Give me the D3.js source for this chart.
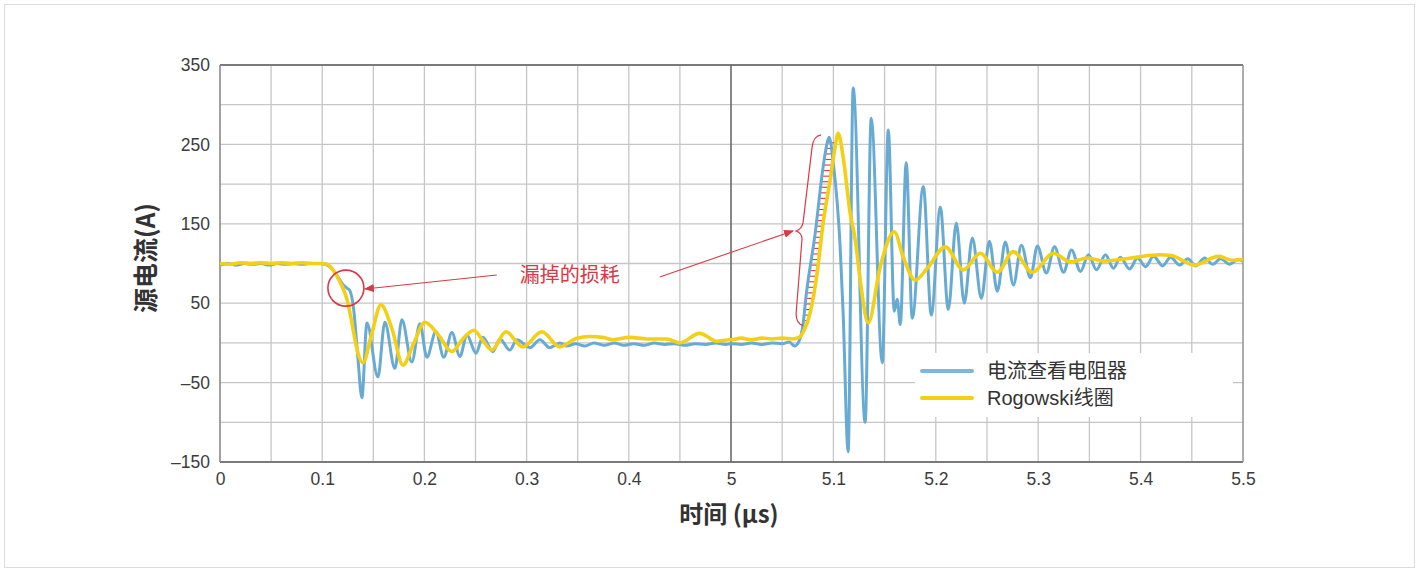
<!DOCTYPE html>
<html>
<head>
<meta charset="utf-8">
<script src="https://cdn.jsdelivr.net/npm/d3@7"></script>
<style>
body { margin: 0; background: #fff; }
svg { display: block; font-family: "Liberation Sans", Arial, "Noto Sans CJK SC", sans-serif; }
</style>
</head>
<body>
<div id="chart"></div>
<script>
// time in µs, current in A (left half 0–0.5 µs, right half 5–5.5 µs)
const resistorPoints = [
  [0,98],[0.008,100],[0.016,98],[0.024,100],[0.032,99],[0.040,100],[0.048,98],[0.056,100],[0.064,99],
  [0.072,100],[0.080,99],[0.088,100],[0.096,100],[0.103,99],[0.109,94],[0.115,84],[0.120,74],
  [0.1242,69],[0.127,66],[0.131,40],[0.135,-20],[0.1388,-69],
  [0.1438,25],[0.1545,-43],[0.1613,26],[0.1711,-32],[0.1780,29],[0.1877,-24],[0.1956,24],[0.2024,-18],
  [0.2112,14],[0.2190,-18],[0.2269,13],[0.2347,-17],[0.2416,10],[0.2504,-13],[0.2572,7],[0.2670,-11],
  [0.2738,5],[0.2836,-9],[0.2905,4],[0.3032,-6],[0.3130,4],[0.3227,-6],[0.3325,0],[0.3394,-4],
  [0.348,-1],[0.357,-4],[0.366,0],[0.376,-3],[0.386,0],[0.395,-3],[0.405,-1],[0.415,-3],[0.425,0],
  [0.435,-2],[0.445,-1],[0.455,-3],[0.465,-1],[0.475,-2],[0.485,0],[0.495,-2],
  [5.000,-1],[5.010,-2],[5.020,0],[5.030,-2],[5.040,0],[5.050,-1],[5.057,1],[5.062,-4],[5.066,1],
  [5.070,20],[5.0734,60],[5.0822,138],[5.0900,222],[5.0939,252],[5.0958,259],
  [5.1000,225],[5.1066,121],[5.1095,38],[5.1144,-137],[5.1193,321],[5.1310,-100],[5.1369,283],
  [5.1477,-25],[5.1536,268],[5.1594,40],[5.1623,55],[5.1653,23],[5.1711,227],[5.1770,31],[5.1878,197],
  [5.1956,35],[5.2044,171],[5.2122,42],[5.2200,151],[5.2278,50],[5.2357,132],[5.2445,56],[5.2523,128],
  [5.2601,65],[5.2679,127],[5.2758,73],[5.2836,123],[5.2924,82],[5.2992,122],[5.3080,88],[5.3159,121],
  [5.3247,89],[5.3325,117],[5.3413,90],[5.3491,111],[5.3569,92],[5.3657,111],[5.3735,94],[5.3803,108],
  [5.3892,93],[5.3970,107],[5.4048,96],[5.4127,109],[5.4215,97],[5.4293,108],[5.4381,98],[5.4460,106],
  [5.4538,97],[5.4626,107],[5.4704,99],[5.4782,106],[5.4870,99],[5.4949,105],[5.5,103]
];

const rogowskiPoints = [
  [0,100],[0.010,99],[0.020,101],[0.030,100],[0.040,101],[0.050,100],[0.060,101],[0.070,100],
  [0.080,101],[0.090,100],[0.100,100],[0.1046,99],[0.1105,92],[0.1173,77],[0.1242,55],[0.1291,25],
  [0.1340,-8],[0.1398,-25],[0.1486,12],[0.1574,48],[0.1682,18],[0.1790,-28],[0.1897,0],[0.2005,26],
  [0.2137,10],[0.2269,-11],[0.2376,5],[0.2484,16],[0.2572,3],[0.2660,-9],[0.2797,14],[0.2963,-5],
  [0.3149,14],[0.3325,-5],[0.3491,6],[0.3618,8],[0.3745,7],[0.3843,4],[0.4009,7],[0.4176,5],
  [0.4371,5],[0.4498,0],[0.4694,12],[0.4860,2],[0.4990,4],
  [5.000,4],[5.010,6],[5.020,4],[5.030,6],[5.040,5],[5.050,6],[5.060,5],[5.0665,7],[5.0714,16],
  [5.0773,38],[5.0841,88],[5.0900,151],[5.0968,205],[5.1017,247],[5.1046,264],[5.1095,234],
  [5.1164,163],[5.1213,130],[5.1262,79],[5.1340,25],[5.1457,96],[5.1594,140],[5.1682,108],
  [5.1799,79],[5.1917,94],[5.2093,121],[5.2269,92],[5.2435,113],[5.2601,89],[5.2757,115],
  [5.2943,89],[5.3148,113],[5.3314,102],[5.3480,107],[5.3640,103],[5.3800,105],[5.3970,108],
  [5.4180,111],[5.4300,110],[5.4526,98],[5.4760,109],[5.4900,104],[5.5,105]
];

const xTicks = [0, 0.1, 0.2, 0.3, 0.4, 5, 5.1, 5.2, 5.3, 5.4, 5.5];
const xGrid = [0.05, 0.1, 0.15, 0.2, 0.25, 0.3, 0.35, 0.4, 0.45, 5.05, 5.1, 5.15, 5.2, 5.25, 5.3, 5.35, 5.4, 5.45];
const yTicks = [-150, -50, 50, 150, 250, 350];
const yGrid = [-100, -50, 0, 50, 100, 150, 200, 250, 300];
const seriesNames = ["电流查看电阻器", "Rogowski线圈"];
const annotationText = "漏掉的损耗";

const W = 1419, H = 572;
const plotL = 220, plotR = 1243, plotT = 65, plotB = 462;
const mid = 731;
const blue = "#67abd4", yellow = "#f3d016", red = "#d83a45";

const svg = d3.select("#chart").append("svg")
  .attr("width", W)
  .attr("height", H);

svg.append("rect")
  .attr("x", 4.5).attr("y", 4.5)
  .attr("width", W - 9).attr("height", H - 9)
  .attr("fill", "#fff")
  .attr("stroke", "#dcdcdc");

// broken time axis: 0–0.5 then 5–5.5
const x = d3.scaleLinear().domain([0, 0.5, 5, 5.5]).range([plotL, mid, mid, plotR]);
const y = d3.scaleLinear().domain([-150, 350]).range([plotB, plotT]);

// grid
svg.append("g").selectAll("line")
  .data(xGrid)
  .enter().append("line")
  .attr("x1", d => x(d)).attr("x2", d => x(d))
  .attr("y1", plotT).attr("y2", plotB)
  .attr("stroke", "#c6c6c6").attr("stroke-width", 1.3);

svg.append("g").selectAll("line")
  .data(yGrid)
  .enter().append("line")
  .attr("x1", plotL).attr("x2", plotR)
  .attr("y1", d => y(d)).attr("y2", d => y(d))
  .attr("stroke", "#c6c6c6").attr("stroke-width", 1.3);

// frame
svg.append("line").attr("x1", plotL).attr("x2", plotR).attr("y1", y(350)).attr("y2", y(350))
  .attr("stroke", "#7a7a7a").attr("stroke-width", 1.8);
svg.append("line").attr("x1", plotL).attr("x2", plotR).attr("y1", y(-150)).attr("y2", y(-150))
  .attr("stroke", "#7a7a7a").attr("stroke-width", 1.8);
svg.append("line").attr("x1", x(0)).attr("x2", x(0)).attr("y1", plotT).attr("y2", plotB)
  .attr("stroke", "#8a8a8a").attr("stroke-width", 1.6);
svg.append("line").attr("x1", x(5.5)).attr("x2", x(5.5)).attr("y1", plotT).attr("y2", plotB)
  .attr("stroke", "#8a8a8a").attr("stroke-width", 1.4);
svg.append("line").attr("x1", x(5)).attr("x2", x(5)).attr("y1", plotT).attr("y2", plotB)
  .attr("stroke", "#6a6a6a").attr("stroke-width", 1.6);

// axes labels
const fmtX = d => String(+d.toFixed(1));
const fmtY = d => d < 0 ? "\u2013" + (-d) : String(d);

const xAxis = svg.append("g")
  .attr("transform", "translate(0," + plotB + ")")
  .call(d3.axisBottom(x).tickValues(xTicks).tickSize(0).tickPadding(11).tickFormat(fmtX));
const yAxis = svg.append("g")
  .attr("transform", "translate(" + plotL + ",0)")
  .call(d3.axisLeft(y).tickValues(yTicks).tickSize(0).tickPadding(10).tickFormat(fmtY));
[xAxis, yAxis].forEach(a => {
  a.select(".domain").remove();
  a.attr("font-size", 17.5).attr("font-family", "'Liberation Sans', Arial, sans-serif");
  a.selectAll("text").attr("fill", "#3c3c3c");
});

svg.append("text")
  .attr("x", 729).attr("y", 523)
  .attr("text-anchor", "middle")
  .attr("font-family", "'Noto Sans CJK SC', sans-serif")
  .attr("font-weight", "bold")
  .attr("font-size", 24)
  .attr("fill", "#333")
  .text("时间 (µs)");

svg.append("text")
  .attr("transform", "translate(155,258) rotate(-90)")
  .attr("text-anchor", "middle")
  .attr("font-family", "'Noto Sans CJK SC', sans-serif")
  .attr("font-weight", "bold")
  .attr("font-size", 25)
  .attr("fill", "#333")
  .text("源电流(A)");

// hatch between the two rising edges
const risingX = (pts, t0, t1, a) => {
  const seg = pts.filter(p => p[0] >= t0 && p[0] <= t1);
  for (let i = 1; i < seg.length; i++) {
    const p = seg[i - 1], q = seg[i];
    if (a >= p[1] && a <= q[1]) {
      const k = (a - p[1]) / (q[1] - p[1]);
      return x(p[0]) + k * (x(q[0]) - x(p[0]));
    }
  }
  return null;
};
const hatchLevels = d3.range(14, 258, 7);
svg.append("g").selectAll("line")
  .data(hatchLevels)
  .enter().append("line")
  .attr("x1", a => risingX(resistorPoints, 5.066, 5.0958, a) - 1)
  .attr("x2", a => risingX(rogowskiPoints, 5.0665, 5.1046, a) + 1)
  .attr("y1", a => y(a)).attr("y2", a => y(a))
  .attr("stroke", red).attr("stroke-width", 1.1);

// series
const line = d3.line()
  .x(d => x(d[0]))
  .y(d => y(d[1]))
  .curve(d3.curveMonotoneX);

svg.append("path")
  .datum(resistorPoints)
  .attr("d", line)
  .attr("fill", "none")
  .attr("stroke", blue)
  .attr("stroke-width", 3)
  .attr("stroke-linejoin", "round");

svg.append("path")
  .datum(rogowskiPoints)
  .attr("d", line)
  .attr("fill", "none")
  .attr("stroke", yellow)
  .attr("stroke-width", 3.6)
  .attr("stroke-linejoin", "round");

// annotations
const defs = svg.append("defs");
defs.append("marker")
  .attr("id", "arrow")
  .attr("viewBox", "0 0 10 8")
  .attr("refX", 9).attr("refY", 4)
  .attr("markerWidth", 10).attr("markerHeight", 8)
  .attr("markerUnits", "userSpaceOnUse")
  .attr("orient", "auto")
  .append("path")
  .attr("d", "M0,0 L10,4 L0,8 z")
  .attr("fill", red);

svg.append("circle")
  .attr("cx", x(0.1232)).attr("cy", y(69))
  .attr("r", 18)
  .attr("fill", "none")
  .attr("stroke", red)
  .attr("stroke-width", 1.6);

svg.append("line")
  .attr("x1", x(0.2709)).attr("y1", y(85.5))
  .attr("x2", x(0.1418)).attr("y2", y(67.9))
  .attr("stroke", red).attr("stroke-width", 1.1)
  .attr("marker-end", "url(#arrow)");

svg.append("line")
  .attr("x1", x(0.4303)).attr("y1", y(83))
  .attr("x2", x(5.0606)).attr("y2", y(141))
  .attr("stroke", red).attr("stroke-width", 1.1)
  .attr("marker-end", "url(#arrow)");

svg.append("text")
  .attr("x", x(0.2934)).attr("y", y(77))
  .attr("font-family", "'Noto Sans CJK SC', sans-serif")
  .attr("font-size", 20)
  .attr("fill", red)
  .text(annotationText);

const tp = [x(5.0880), y(262)], tip = [x(5.0635), y(141)], bt = [x(5.0704), y(22)];
const brace = d3.path();
brace.moveTo(tp[0], tp[1]);
brace.bezierCurveTo(tp[0] - 6, tp[1] + 1, tp[0] - 8, tp[1] + 5, tp[0] - 9, tp[1] + 12);
brace.lineTo(tip[0] + 7, tip[1] - 8);
brace.bezierCurveTo(tip[0] + 6, tip[1] - 3, tip[0] + 3, tip[1] - 1, tip[0], tip[1]);
brace.bezierCurveTo(tip[0] + 3, tip[1] + 1, tip[0] + 6, tip[1] + 3, tip[0] + 6, tip[1] + 8);
brace.lineTo(bt[0] - 7, bt[1] - 12);
brace.bezierCurveTo(bt[0] - 7, bt[1] - 5, bt[0] - 4, bt[1] - 1, bt[0], bt[1]);
svg.append("path")
  .attr("d", brace.toString())
  .attr("fill", "none")
  .attr("stroke", red)
  .attr("stroke-width", 1.2);

// legend
const lg = svg.append("g");
lg.append("rect")
  .attr("x", 915).attr("y", 353)
  .attr("width", 318).attr("height", 64)
  .attr("fill", "#fff");
const items = lg.selectAll("g.item")
  .data(seriesNames)
  .enter().append("g")
  .attr("class", "item")
  .attr("transform", (d, i) => "translate(922," + (371 + i * 27) + ")");
items.append("line")
  .attr("x1", 0).attr("x2", 50)
  .attr("stroke", (d, i) => i === 0 ? "#7ab8dd" : yellow)
  .attr("stroke-width", 4)
  .attr("stroke-linecap", "round");
items.append("text")
  .attr("x", 65).attr("y", 7)
  .attr("font-family", "'Liberation Sans', Arial, 'Noto Sans CJK SC', sans-serif")
  .attr("font-size", 20)
  .attr("fill", "#333")
  .text(d => d);
</script>
</body>
</html>
